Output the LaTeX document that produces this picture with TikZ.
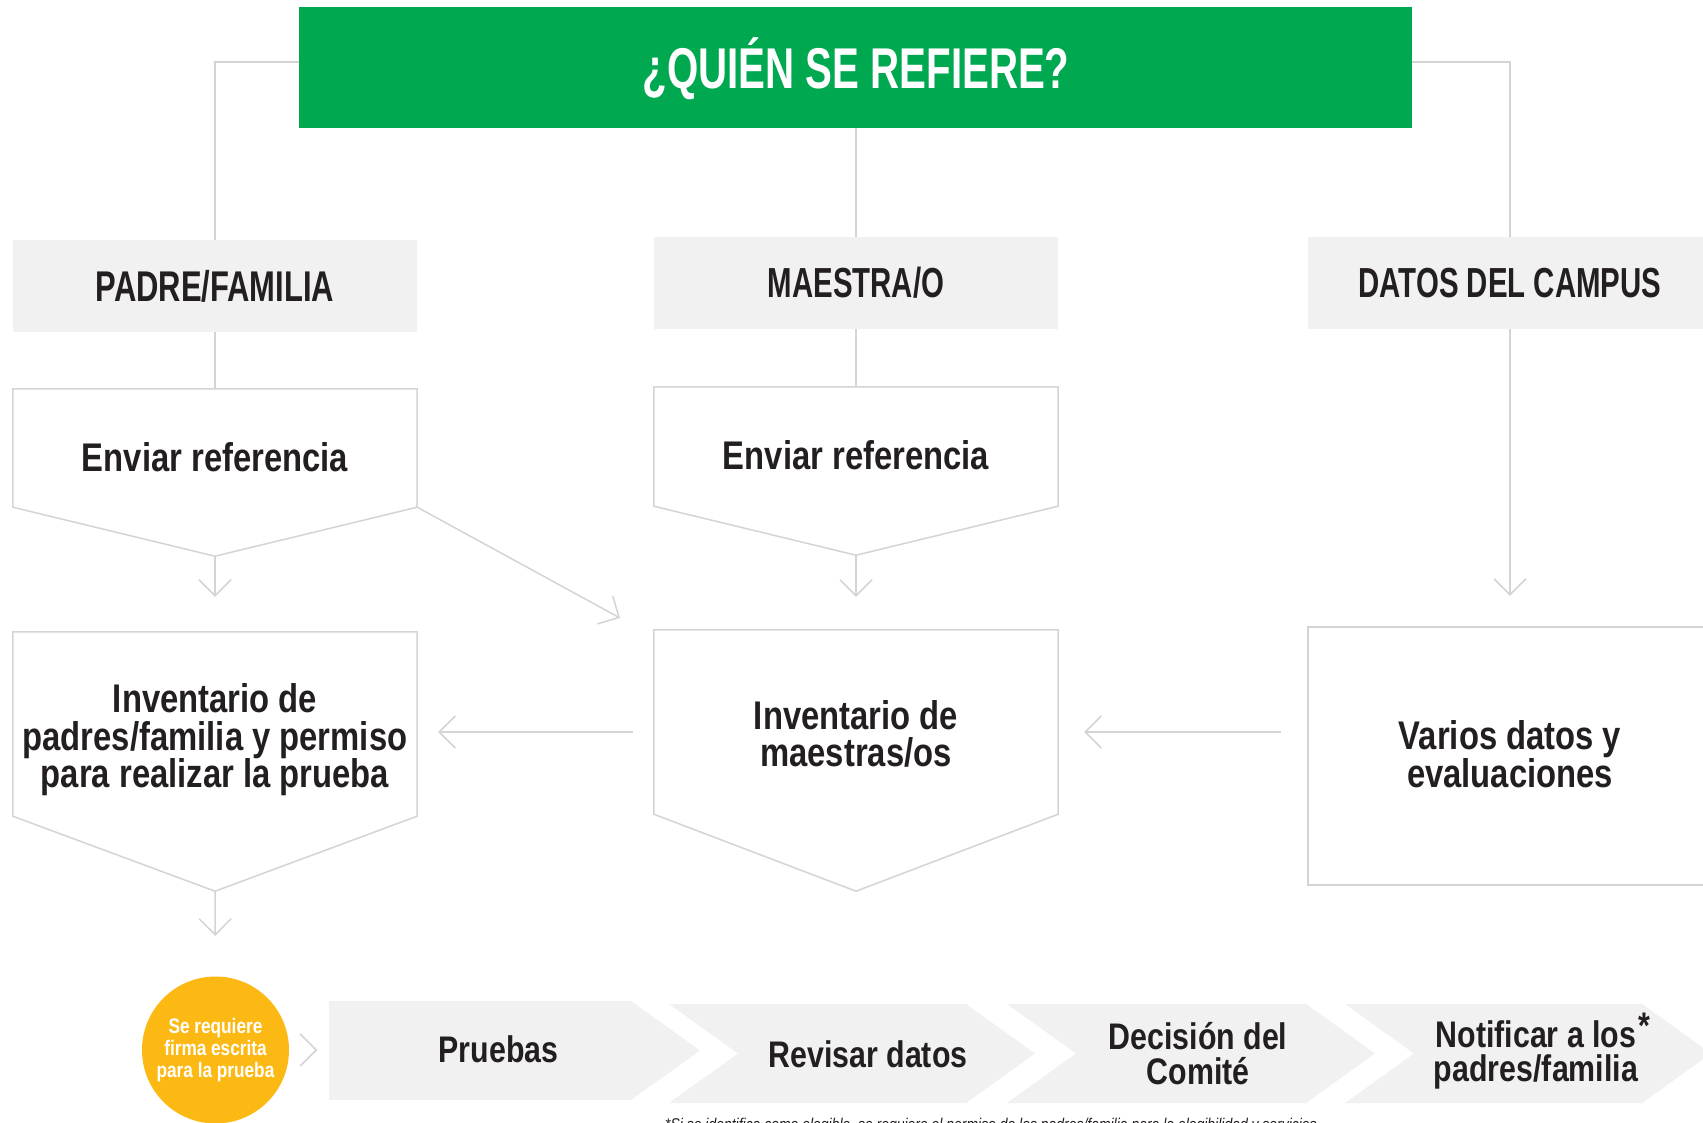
\documentclass[tikz,border=0pt]{standalone}
\usepackage{fontspec}
\setmainfont{Liberation Sans}
\newfontfamily\capf[FakeStretch=0.70]{Liberation Sans}
\newfontfamily\capg[FakeStretch=0.72]{Liberation Sans}
\newfontfamily\bodyf[FakeStretch=0.82]{Liberation Sans}
\usetikzlibrary{arrows.meta,calc}
\definecolor{tgreen}{RGB}{0,168,80}
\definecolor{gbox}{RGB}{240,241,240}
\definecolor{lgray}{RGB}{212,212,212}
\definecolor{ylw}{RGB}{253,185,19}
\definecolor{ink}{RGB}{35,31,32}
\begin{document}
\begin{tikzpicture}[x=1pt,y=-1pt,
  ln/.style={draw=lgray, line width=1.5pt},
  arr/.style={ln, -{Straight Barb[length=16pt,width=32pt]}},
  hdr/.style={fill=gbox, minimum width=404pt, minimum height=92pt, inner sep=0pt, text=ink, font=\capf\bfseries\fontsize{42}{42}\selectfont},
  boxarea/.style={minimum width=404pt, inner sep=0pt},
  outl/.style={draw=lgray, line width=1.5pt, fill=white, line join=miter},
  big/.style={text=ink, inner sep=0pt, align=center, font=\bodyf\bfseries\fontsize{40}{37.5}\selectfont},
  bigb/.style={text=ink, inner sep=0pt, align=center, font=\bodyf\bfseries\fontsize{40}{37}\selectfont},
  chevtxt/.style={text=ink, inner sep=0pt, align=center, font=\bodyf\bfseries\fontsize{37}{35}\selectfont},
  chevfill/.style={fill=gbox}]
\fill[white] (0,0) rectangle (1703,1123);
\useasboundingbox (0,0) rectangle (1703,1123);

% title
\node[fill=tgreen, minimum width=1113pt, minimum height=121pt, inner sep=0pt] (top) at (855.5,67.5) {};
\node[anchor=base, inner sep=0pt, text=white, font=\capf\bfseries\fontsize{57.5}{57.5}\selectfont] (title) at (856,89) {¿QUIÉN SE REFIERE?};

% headers
\node[hdr, font=\capg\bfseries\fontsize{43}{43}\selectfont] (pf) at (215,286) {PADRE/FAMILIA};
\node[hdr] (ms) at (856,283) {MAESTRA/O};
\node[hdr] (dc) at (1510,283) {DATOS DEL CAMPUS};

% box areas
\node[boxarea, minimum height=118pt] (env1) at (215,448) {};
\node[boxarea, minimum height=119pt] (env2) at (856,446.5) {};
\node[boxarea, minimum height=184pt] (inv1) at (215,724) {};
\node[boxarea, minimum height=184pt] (inv2) at (856,722) {};
\node[boxarea, minimum height=258pt] (va) at (1510,756) {};

\coordinate (env1tip) at ($(env1.south)+(0,49)$);
\coordinate (env2tip) at ($(env2.south)+(0,49)$);
\coordinate (inv1tip) at ($(inv1.south)+(0,75)$);
\coordinate (inv2tip) at ($(inv2.south)+(0,77)$);

\draw[outl] (env1.north west) -- (env1.north east) -- (env1.south east) -- (env1tip) -- (env1.south west) -- cycle;
\draw[outl] (env2.north west) -- (env2.north east) -- (env2.south east) -- (env2tip) -- (env2.south west) -- cycle;
\draw[outl] (inv1.north west) -- (inv1.north east) -- (inv1.south east) -- (inv1tip) -- (inv1.south west) -- cycle;
\draw[outl] (inv2.north west) -- (inv2.north east) -- (inv2.south east) -- (inv2tip) -- (inv2.south west) -- cycle;
\draw[outl] (va.north west) rectangle (va.south east);

% texts in boxes
\node[big] (env1t) at (215,457.5) {Enviar referencia};
\node[big] (env2t) at (856,455.5) {Enviar referencia};
\node[big] (inv1t) at (215,740) {Inventario de\\padres/familia y permiso\\para realizar la prueba};
\node[bigb] (inv2t) at (856,734) {Inventario de\\maestras/os};
\node[bigb] (vat) at (1510,754) {Varios datos y\\evaluaciones};

% connectors
\draw[ln] ($(top.north west)+(0,55)$) -| (pf.north);
\draw[ln] ($(top.north east)+(0,55)$) -| (dc.north);
\draw[ln] (top.south -| ms.north) -- (ms.north);
\draw[ln] (pf.south) -- (env1.north);
\draw[ln] (ms.south) -- (env2.north);
\draw[arr, shorten >=35pt] (env1tip) -- (inv1.north);
\draw[arr, shorten >=33pt] (env2tip) -- (inv2.north);
\draw[arr, shorten >=31pt] (dc.south) -- (va.north);
\coordinate (dtip) at (620,618);
\draw[arr] (env1.south east) -- (dtip);
\draw[arr] ($(inv2.west)+(-21,10)$) -- ($(inv1.east)+(21,8)$);
\draw[arr] ($(va.west)+(-27,-24)$) -- ($(inv2.east)+(26,10)$);

% circle
\node[circle, fill=ylw, minimum size=147pt, inner sep=0pt, text=white, align=center, font=\bodyf\bfseries\fontsize{21}{22}\selectfont] (circ) at (215.5,1050) {Se requiere\\firma escrita\\para la prueba};
\draw[arr, shorten >=40.5pt] (inv1tip) -- (circ.north);
\draw[ln] ($(circ.east)+(11,-16)$) -- ($(circ.east)+(27,0)$) -- ($(circ.east)+(11,16)$);

% chevrons
\fill[chevfill] (329,1001) -- (631,1001) -- (700,1050.5) -- (631,1100) -- (329,1100) -- cycle;
\fill[chevfill] (669,1004) -- (966,1004) -- (1035,1053.5) -- (966,1103) -- (669,1103) -- (738,1053.5) -- cycle;
\fill[chevfill] (1007,1004) -- (1306,1004) -- (1375,1053.5) -- (1306,1103) -- (1007,1103) -- (1076,1053.5) -- cycle;
\fill[chevfill] (1345,1004) -- (1642,1004) -- (1711,1053.5) -- (1642,1103) -- (1345,1103) -- (1414,1053.5) -- cycle;

\node[chevtxt, anchor=base] (p1) at (498.5,1062) {Pruebas};
\node[chevtxt, anchor=base] (p2) at (868,1067) {Revisar datos};
\node[chevtxt] (p3) at (1198,1054) {Decisión del\\Comité};
\node[chevtxt, font=\bodyf\bfseries\fontsize{37}{34}\selectfont] (p4) at (1536,1055) {Notificar a los\rlap{\kern2pt\smash{\raisebox{9.5pt}{*}}}\\padres/familia};

% footnote (cut off by the lower edge, as in the reference)
\node[anchor=base west, inner sep=0pt, text=ink, font=\bodyf\itshape\fontsize{17}{17}\selectfont] (fn) at (665,1130) {*Si se identifica como elegible, se requiere el permiso de los padres/familia para la elegibilidad y servicios.};
\end{tikzpicture}
\end{document}
